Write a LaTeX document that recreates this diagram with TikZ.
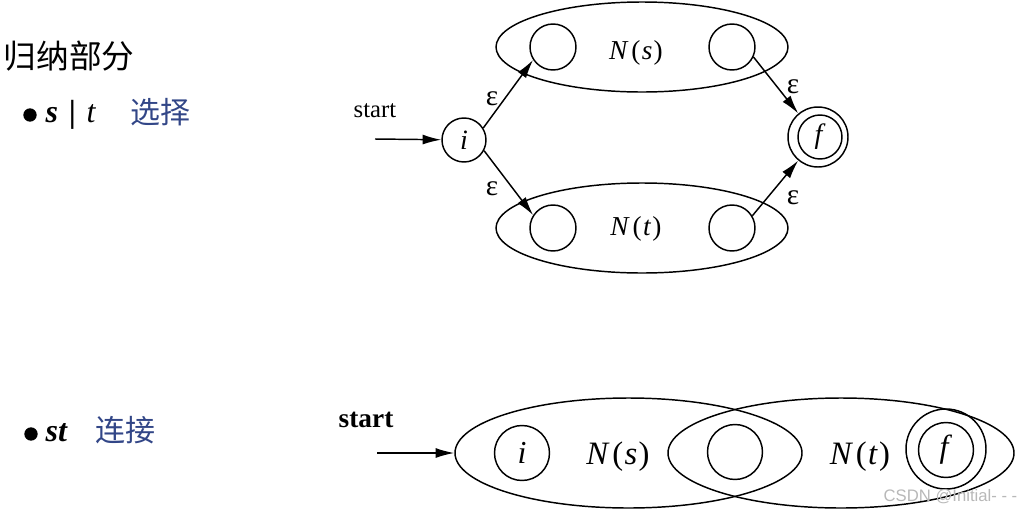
\documentclass[tikz,border=0pt]{standalone}
\usepackage{fontspec}
\setmainfont{Liberation Serif}
\newfontfamily\cjk{Noto Sans CJK SC}
\newfontfamily\wmfont{Liberation Sans}
\usetikzlibrary{shapes.geometric,arrows.meta}
\definecolor{hand}{RGB}{50,70,135}
\begin{document}
\begin{tikzpicture}[x=0.75pt,y=-0.75pt,line width=1.1pt,
  state/.style={circle,draw,inner sep=0pt,minimum size=#1*0.75pt},
  blob/.style n args={2}{ellipse,draw,inner sep=0pt,minimum width=#1*0.75pt,minimum height=#2*0.75pt},
  arr/.style={-{Latex[length=14pt,width=7.5pt]}},
  lbl/.style={font=\fontsize{#1}{#1}\selectfont,inner sep=0pt},
  eps/.style={font=\fontsize{22}{22}\selectfont,inner sep=0pt},
  dot/.style={circle,fill,inner sep=0pt,minimum size=10pt}]
\useasboundingbox (0,0) rectangle (1022,515);

% ---- left texts
\node[anchor=west,inner sep=0pt,font=\cjk\fontsize{24.5}{28}\selectfont] (title) at (3,56) {归纳部分};
\node[dot] (b1) at (30,115) {};
\node[anchor=base west,inner sep=0pt,font=\fontsize{24}{26}\selectfont] (or) at (45,122) {\textbf{\textit{s}}\hspace{8pt}\textbf{|}\hspace{8pt}\textit{t}};
\node[inner sep=0pt,text=hand,font=\cjk\fontsize{22.5}{26}\selectfont] (sel) at (160,112) {选择};
\node[dot] (b2) at (31,434) {};
\node[anchor=base west,inner sep=0pt,font=\fontsize{24}{26}\selectfont] (cat) at (45,441) {\textbf{\textit{st}}};
\node[inner sep=0pt,text=hand,font=\cjk\fontsize{22.5}{26}\selectfont] (con) at (125,430) {连接};

% ---- top diagram: s|t
\node[anchor=base west,inner sep=0pt,font=\fontsize{18.5}{20}\selectfont] (start1) at (353,117) {start};
\coordinate (in1) at (375,139);
\node[state=44] (i1) at (464,140) {\fontsize{21}{21}\selectfont\textit{i}};
\node[blob={292}{90}] (Ns) at (642,47) {};
\node[blob={292}{90}] (Nt) at (642,228) {};
\node[state=46] (s1) at (553,47) {};
\node[state=46] (s2) at (732,47) {};
\node[state=46] (t1) at (553,228) {};
\node[state=46] (t2) at (732,228) {};
\node[lbl=20.5] (Nslab) at (636,53) {\textit{N}\kern2pt(\kern1pt\textit{s}\kern1pt)};
\node[lbl=20.5] (Ntlab) at (636,229) {\textit{N}\kern2pt(\kern1pt\textit{t}\kern1pt)};
\node[state=60] (f1) at (818,137) {};
\node[state=44] (f1in) at (820,137) {\fontsize{21}{21}\selectfont\textit{f}};

\draw[arr] (in1) -- (i1);
\draw[arr] (i1.32) -- (s1.213);
\draw[arr] (i1.-28) -- (t1.147);
\draw[arr] (s2.-25) -- (f1.130);
\draw[arr] (t2.31) -- (f1.230);
\node[eps] (e1) at (492,99) {ε};
\node[eps] (e2) at (492,189) {ε};
\node[eps] (e3) at (793,87) {ε};
\node[eps] (e4) at (793,198) {ε};

% ---- bottom diagram: st
\node[anchor=base west,inner sep=0pt,font=\bfseries\fontsize{20.5}{22}\selectfont] (start2) at (338,427) {start};
\coordinate (in2) at (377,453);
\node[blob={347}{110}] (Ls) at (628.5,453) {};
\node[blob={346}{110}] (Rt) at (841,453) {};
\node[state=55] (i2) at (522,453) {\fontsize{24}{24}\selectfont\textit{i}};
\node[state=55] (m2) at (735,452) {};
\node[state=80] (f2) at (946,449) {};
\node[state=55] (f2in) at (946,450) {\fontsize{24}{24}\selectfont\textit{f}};
\node[lbl=24.5] (Nslab2) at (618,457) {\textit{N}\kern2pt(\kern1pt\textit{s}\kern1pt)};
\node[lbl=24.5] (Ntlab2) at (860,457) {\textit{N}\kern2pt(\kern1pt\textit{t}\kern1pt)};
\draw[arr] (in2) -- (Ls.west);

% ---- watermark
\node[anchor=east,inner sep=0pt,text=black!28,font=\wmfont\fontsize{12.5}{14}\selectfont] (wm) at (1018,497) {CSDN @Initial- - -};
\end{tikzpicture}
\end{document}
